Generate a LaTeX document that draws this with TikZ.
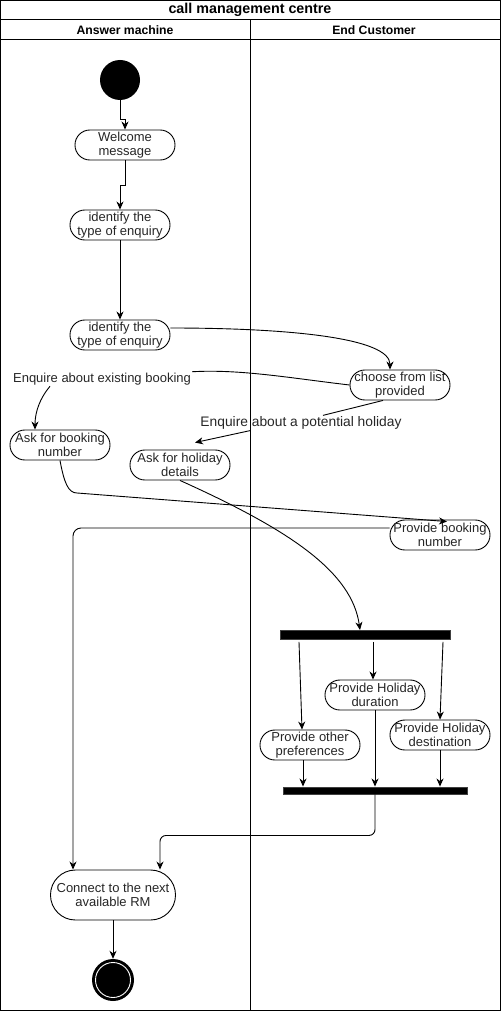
\documentclass[tikz,border=0pt]{standalone}
\usepackage{fontspec}
\setmainfont{Liberation Sans}
\usetikzlibrary{arrows.meta}
\begin{document}
\begin{tikzpicture}[x=1pt,y=-1pt,
  every node/.style={font=\fontsize{13}{14.5}\selectfont, text=black!85},
  act/.style={draw, rounded corners=14.9pt, minimum width=100pt, minimum height=30pt, inner sep=0pt, align=center, line width=0.9pt},
  barnode/.style={fill=black, draw=black!75, inner sep=0pt, line width=0.9pt},
  flow/.style={-{Stealth[length=8pt,width=7pt,inset=2.5pt]}, line width=0.9pt},
  plain/.style={line width=0.9pt},
  lbl/.style={inner sep=1pt, font=\fontsize{13}{14.5}\selectfont},
  hdr/.style={font=\bfseries\fontsize{12.2}{13}\selectfont, text=black}]
\path[use as bounding box] (0,0) rectangle (501,1011);
% frame and lanes
\draw[line width=1pt] (0.5,0.5) rectangle (500.5,1010);
\draw[line width=1pt] (0.5,20) -- (500.5,20);
\draw[line width=1pt] (0.5,40) -- (500.5,40);
\draw[line width=1pt] (250,20) -- (250,1010);
\node[hdr, font=\bfseries\fontsize{14.3}{15}\selectfont] (title) at (250,10) {call management centre};
\node[hdr] (laneA) at (125,30) {Answer machine};
\node[hdr] (laneB) at (374,30) {End Customer};
% nodes
\node[circle, fill=black, minimum size=40pt, inner sep=0pt] (start) at (120,80) {};
\node[act] (welcome) at (125,145) {Welcome\\message};
\node[act] (id1) at (120,225) {identify the\\type of enquiry};
\node[act] (id2) at (120,335) {identify the\\type of enquiry};
\node[act] (choose) at (400,385) {choose from list\\provided};
\node[lbl] (lbl1) at (102,379) {Enquire about existing booking};
\node[lbl, font=\fontsize{13.8}{15}\selectfont] (lbl2) at (301,423) {Enquire about a potential holiday};
\node[act] (askb) at (60,445) {Ask for booking\\number};
\node[act] (askh) at (180,465) {Ask for holiday\\details};
\node[act] (provb) at (440,535) {Provide booking\\number};
\node[barnode, minimum width=170pt, minimum height=9pt] (fork) at (365,635) {};
\node[act] (provdur) at (375,695) {Provide Holiday\\duration};
\node[act] (provdest) at (440,735) {Provide Holiday\\destination};
\node[act] (provo) at (310,745) {Provide other\\preferences};
\node[barnode, minimum width=184pt, minimum height=7pt] (join) at (375.5,790.5) {};
\node[act, minimum width=125pt, minimum height=50pt, rounded corners=24.9pt] (conn) at (113,895) {Connect to the next\\available RM};
\node[circle, fill=black, minimum size=42pt, inner sep=0pt] (end) at (113,980) {};
\draw[white, line width=0.9pt] (end.center) circle (17.5pt);
% connectors
\draw[flow] (start.south) -- ++(0,19) -| (welcome.north);
\draw[flow] (welcome.south) -- ++(0,25) -| (id1.north);
\draw[flow] (id1) -- (id2);
\draw[flow] ([yshift=7pt]id2.east) .. controls (290,328) and (390,338) .. ([xshift=-10pt]choose.north);
\draw[plain] (choose.west) .. controls (290,378) and (240,369) .. (lbl1.north east);
\draw[flow] ([xshift=-52pt]lbl1.south) .. controls (40,398) and (35,412) .. ([xshift=-25pt]askb.north);
\draw[plain] ([xshift=-17pt]choose.south) -- ([xshift=22pt]lbl2.north);
\draw[flow] ([xshift=-51pt]lbl2.south) -- ([xshift=15pt,yshift=7pt]askh.north);
\draw[flow] (askb.south) .. controls (64,482) and (68,493) .. (77,493) -- ([xshift=7pt,yshift=-2pt]provb.north);
\draw[flow, rounded corners=8pt] ([yshift=7pt]provb.west) -| ([xshift=-40pt]conn.north);
\draw[flow] (askh.south) .. controls (290,530) and (352,572) .. ([xshift=-5pt]fork.north);
\draw[flow] ([xshift=-66pt,yshift=-2pt]fork.south) -- ([xshift=-8pt]provo.north);
\draw[flow] ([xshift=8pt,yshift=-2pt]fork.south) -- ([xshift=-2pt]provdur.north);
\draw[flow] ([xshift=78pt,yshift=-2pt]fork.south) -- (provdest.north);
\draw[flow] ([xshift=-7pt]provo.south) -- ([xshift=-7pt]provo.south |- join.north);
\draw[flow] (provdur.south) -- (provdur.south |- join.north);
\draw[flow] (provdest.south) -- (provdest.south |- join.north);
\draw[flow, rounded corners=6pt] (provdur.south |- join.south) -- ++(0,41) -| ([xshift=47pt]conn.north);
\draw[flow] (conn.south) -- (end.north);
\end{tikzpicture}
\end{document}
